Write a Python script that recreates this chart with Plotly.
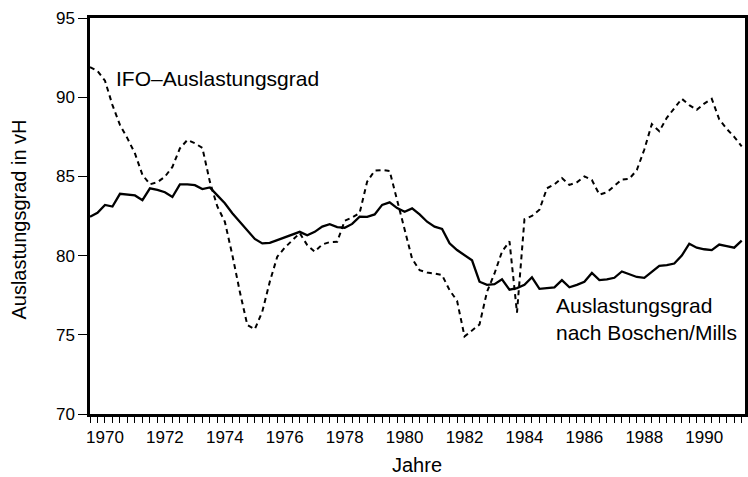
import plotly.graph_objects as go

# Quarterly observations 1970 Q1 .. 1991 Q4
years = [1970 + i * 0.25 for i in range(88)]

boschen_mills = [
    82.45, 82.7, 83.2, 83.1,
    83.9, 83.85, 83.8, 83.5,
    84.25, 84.15, 84.0, 83.7,
    84.5, 84.5, 84.45, 84.2,
    84.3, 83.8, 83.3, 82.67,
    82.14, 81.55, 81.05, 80.77,
    80.8, 80.98, 81.15, 81.3,
    81.5, 81.28, 81.5, 81.83,
    81.98, 81.8, 81.76, 82.0,
    82.46, 82.45, 82.6, 83.2,
    83.36, 83.0, 82.77, 82.98,
    82.6, 82.14, 81.83, 81.68,
    80.77, 80.35, 80.04, 79.7,
    78.35, 78.15, 78.2, 78.5,
    77.85, 77.95, 78.15, 78.63,
    77.9, 77.95, 78.0, 78.45,
    78.0, 78.15, 78.35, 78.9,
    78.45, 78.5, 78.6, 79.0,
    78.8, 78.65, 78.6, 79.0,
    79.35, 79.4, 79.5, 80.0,
    80.75, 80.5, 80.4, 80.35,
    80.7, 80.6, 80.5, 80.95,
]

ifo = [
    91.9, 91.65, 91.04, 89.5,
    88.25, 87.4, 86.45, 85.1,
    84.5, 84.63, 84.98, 85.6,
    86.77, 87.3, 87.09, 86.8,
    84.67, 83.1, 82.14, 80.04,
    77.72, 75.62, 75.35, 76.46,
    78.35, 79.93, 80.5, 80.98,
    81.42, 80.66, 80.25, 80.7,
    80.85, 80.87, 82.2, 82.4,
    82.7, 84.67, 85.36, 85.4,
    85.34, 83.5, 81.72, 79.8,
    79.08, 78.93, 78.87, 78.77,
    77.82, 77.15, 74.9, 75.3,
    75.65, 77.72, 78.87, 80.25,
    80.9, 76.4, 82.3, 82.5,
    82.9, 84.25, 84.5, 84.9,
    84.46, 84.63, 85.0, 84.77,
    83.85, 84.0, 84.4, 84.8,
    84.85, 85.4, 86.7, 88.3,
    87.85, 88.7, 89.3, 89.9,
    89.5, 89.2, 89.6, 89.9,
    88.6, 88.0, 87.5, 86.9,
]

year_labels = ["1970", "1972", "1974", "1976", "1978", "1980",
               "1982", "1984", "1986", "1988", "1990"]
y_ticks = [70, 75, 80, 85, 90, 95]

FONT = "Liberation Sans, Arial, sans-serif"

# x ticks: every quarter, labels centred in the labelled year
tick_vals = [1970 + i * 0.25 for i in range(88)]
label_pos = {int(l) + 0.5: l for l in year_labels}
tick_text = [label_pos.get(v, "") for v in tick_vals]

fig = go.Figure()
fig.add_trace(go.Scatter(
    x=years, y=ifo, mode="lines",
    line=dict(color="black", width=2, dash="5px,4px"),
    showlegend=False, hoverinfo="skip"))
fig.add_trace(go.Scatter(
    x=years, y=boschen_mills, mode="lines",
    line=dict(color="black", width=2.3),
    showlegend=False, hoverinfo="skip"))

fig.update_layout(
    width=748, height=477,
    margin=dict(l=90, r=0, t=18, b=63),
    paper_bgcolor="white", plot_bgcolor="white",
    font=dict(family=FONT, color="black", size=17),
    xaxis=dict(
        range=[1970, 1991.86], showgrid=False, zeroline=False,
        showline=True, linecolor="black", linewidth=2.5, mirror=True,
        tickmode="array", tickvals=tick_vals, ticktext=tick_text,
        ticks="outside", ticklen=6, tickwidth=1.3, tickcolor="black",
        tickfont=dict(size=17, family=FONT),
    ),
    yaxis=dict(
        range=[70, 95], showgrid=False, zeroline=False,
        showline=True, linecolor="black", linewidth=2.5, mirror=True,
        tickmode="array", tickvals=y_ticks, ticktext=[str(v) for v in y_ticks],
        ticks="outside", ticklen=9, tickwidth=1.3, tickcolor="black",
        tickfont=dict(size=17, family=FONT),
    ),
    annotations=[
        dict(text="IFO–Auslastungsgrad", x=1970.8, y=91.2, xref="x", yref="y",
             xanchor="left", yanchor="middle", showarrow=False,
             font=dict(size=21, family=FONT)),
        dict(text="Auslastungsgrad<br>nach Boschen/Mills", x=1985.48, y=76.0,
             xref="x", yref="y", xanchor="left", yanchor="middle", align="left",
             showarrow=False, font=dict(size=21, family=FONT)),
        dict(text="Auslastungsgrad in vH", x=-0.109, y=0.49, xref="paper", yref="paper",
             textangle=-90, xanchor="center", yanchor="middle", showarrow=False,
             font=dict(size=20, family=FONT)),
        dict(text="Jahre", x=0.499, y=-0.128, xref="paper", yref="paper",
             xanchor="center", yanchor="middle", showarrow=False,
             font=dict(size=20, family=FONT)),
    ],
)

fig.write_html(
    "out.html",
    config={"displayModeBar": False},
    post_script="document.body.style.margin='0px';document.body.style.overflow='hidden';",
)
